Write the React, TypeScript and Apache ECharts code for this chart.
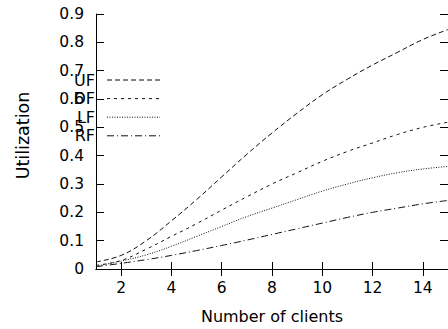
import React, { useEffect, useRef } from "react";
import * as echarts from "echarts";

const clients = [1, 2, 3, 4, 5, 6, 7, 8, 9, 10, 11, 12, 13, 14, 15];
const seriesNames = ["UF", "DF", "LF", "RF"];
const ufValues = [0.025, 0.048, 0.1, 0.17, 0.245, 0.325, 0.405, 0.48, 0.55, 0.615, 0.67, 0.72, 0.765, 0.81, 0.845];
const dfValues = [0.013, 0.03, 0.07, 0.115, 0.16, 0.208, 0.255, 0.3, 0.34, 0.38, 0.415, 0.445, 0.475, 0.5, 0.518];
const lfValues = [0.01, 0.028, 0.05, 0.08, 0.115, 0.15, 0.185, 0.215, 0.245, 0.275, 0.3, 0.322, 0.34, 0.353, 0.362];
const rfValues = [0.008, 0.02, 0.033, 0.048, 0.065, 0.083, 0.102, 0.122, 0.142, 0.162, 0.182, 0.2, 0.215, 0.23, 0.242];
const xTickValues = [2, 4, 6, 8, 10, 12, 14];
const dashes = [[5, 3], [3, 4], [1, 1.5], [7, 3, 1, 3]];

const FONT = "DejaVu Sans";

export default function App() {
  const ref = useRef<HTMLDivElement>(null);
  useEffect(() => {
    if (!ref.current) return;
    const chart = echarts.init(ref.current, null, { renderer: "svg" });
    const allValues = [ufValues, dfValues, lfValues, rfValues];
    const axisCommon = {
      axisLine: { show: true, lineStyle: { color: "#000", width: 1 } },
      splitLine: { show: false },
    };
    const legendGraphics: any[] = [];
    seriesNames.forEach((name, i) => {
      const y = 80 + i * 18.6;
      legendGraphics.push({
        type: "text",
        x: 95,
        y,
        style: {
          text: name,
          font: `16px "${FONT}"`,
          fill: "#000",
          textAlign: "right",
          textVerticalAlign: "middle",
        },
      });
      legendGraphics.push({
        type: "line",
        shape: { x1: 107, y1: y, x2: 160, y2: y },
        style: { stroke: "#111", lineWidth: 1, lineDash: dashes[i] },
      });
    });
    chart.setOption({
      animation: false,
      backgroundColor: "#fff",
      grid: { left: 96, right: 0, top: 14, bottom: 58 },
      xAxis: [
        {
          type: "value",
          min: 1,
          max: 15,
          position: "bottom",
          name: "Number of clients",
          nameLocation: "middle",
          nameGap: 39,
          nameTextStyle: { fontFamily: FONT, fontSize: 16, color: "#000" },
          ...axisCommon,
          axisTick: { show: true, inside: true, length: 7, customValues: xTickValues, lineStyle: { color: "#000" } },
          axisLabel: { customValues: xTickValues, fontFamily: FONT, fontSize: 15.5, color: "#000", margin: 11 },
        },
        {
          type: "value",
          min: 1,
          max: 15,
          position: "top",
          ...axisCommon,
          axisTick: { show: true, inside: true, length: 7, customValues: xTickValues, lineStyle: { color: "#000" } },
          axisLabel: { show: false },
        },
      ],
      yAxis: [
        {
          type: "value",
          min: 0,
          max: 0.9,
          interval: 0.1,
          position: "left",
          name: "Utilization",
          nameLocation: "middle",
          nameGap: 64,
          nameTextStyle: { fontFamily: FONT, fontSize: 17.5, color: "#000", padding: [0, 0, 0, 12] },
          ...axisCommon,
          axisTick: { show: true, inside: true, length: 8, lineStyle: { color: "#000" } },
          axisLabel: { fontFamily: FONT, fontSize: 15.5, color: "#000", margin: 12 },
        },
        {
          type: "value",
          min: 0,
          max: 0.9,
          interval: 0.1,
          position: "right",
          ...axisCommon,
          axisTick: { show: true, inside: true, length: 8, lineStyle: { color: "#000" } },
          axisLabel: { show: false },
        },
      ],
      series: seriesNames.map((name, i) => ({
        name,
        type: "line",
        xAxisIndex: 0,
        yAxisIndex: 0,
        smooth: 0.4,
        showSymbol: false,
        symbol: "none",
        lineStyle: { color: "#111", width: 1, type: dashes[i] },
        data: clients.map((c, j) => [c, allValues[i][j]]),
      })),
      graphic: legendGraphics,
    });
    return () => chart.dispose();
  }, []);
  return <div ref={ref} style={{ position: "fixed", left: 0, top: 0, width: 448, height: 329 }} />;
}
